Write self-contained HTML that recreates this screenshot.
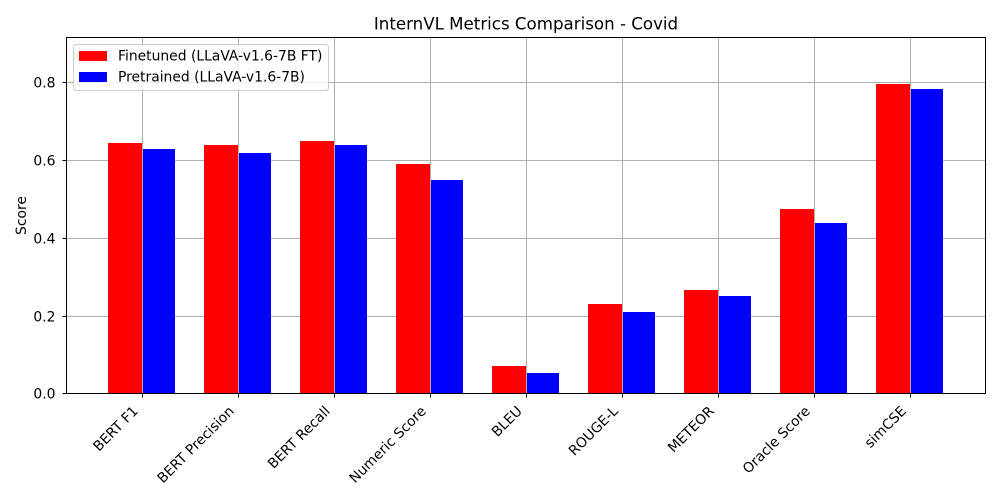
<!DOCTYPE html>
<html>
<head>
<meta charset="utf-8">
<title>InternVL Metrics Comparison - Covid</title>
<style>
html,body{margin:0;padding:0;background:#fff;}
svg{display:block;}
text{font-family:"DejaVu Sans",sans-serif;fill:#000;}
</style>
</head>
<body>
<svg id="chart" xmlns="http://www.w3.org/2000/svg" width="1000" height="500" viewBox="0 0 1000 500">
  <rect x="0" y="0" width="1000" height="500" fill="#fff"/>
  <g id="grid"></g>
  <g id="bars"></g>
  <g id="ticks"></g>
  <rect x="66.5" y="37.5" width="919" height="356" fill="none" stroke="#000" stroke-width="1" shape-rendering="crispEdges"/>
  <text x="526" y="29.5" font-size="16.67" text-anchor="middle">InternVL Metrics Comparison - Covid</text>
  <text transform="translate(26,215.5) rotate(-90)" font-size="13.89" text-anchor="middle">Score</text>
  <g>
    <rect x="73.5" y="44.5" width="255" height="46" rx="3" ry="3" fill="#fff" fill-opacity="0.8" stroke="#ccc" stroke-width="1"/>
    <rect x="79" y="51" width="28" height="10" fill="#ff0000"/>
    <text x="118" y="60.5" font-size="13.89">Finetuned (LLaVA-v1.6-7B FT)</text>
    <rect x="79" y="72" width="28" height="10" fill="#0000ff"/>
    <text x="118" y="81.5" font-size="13.89">Pretrained (LLaVA-v1.6-7B)</text>
  </g>
</svg>
<script>
const categories = ["BERT F1", "BERT Precision", "BERT Recall", "Numeric Score", "BLEU", "ROUGE-L", "METEOR", "Oracle Score", "simCSE"];
const finetuned = [0.644, 0.639, 0.650, 0.590, 0.071, 0.231, 0.267, 0.475, 0.796];
const pretrained = [0.629, 0.619, 0.639, 0.549, 0.053, 0.210, 0.251, 0.439, 0.783];
const yTicks = [0, 0.2, 0.4, 0.6, 0.8];
const yTickLabels = ["0.0", "0.2", "0.4", "0.6", "0.8"];

const NS = "http://www.w3.org/2000/svg";
const sx = function (i) { return 142.5 + 96 * i; };
const sy = function (v) { return 393.9 - 389 * v; };
const snap = function (p) { return Math.floor(p) + 0.5; };

function mk(tag, parent, props) {
  const el = document.createElementNS(NS, tag);
  for (const k in props) el.setAttribute(k, props[k]);
  parent.appendChild(el);
  return el;
}

const grid = document.getElementById("grid");
const bars = document.getElementById("bars");
const ticks = document.getElementById("ticks");

categories.forEach(function (name, i) {
  const x = snap(sx(i));
  const g = mk("line", grid, {x1: x, x2: x, y1: 37.5, y2: 393.5, stroke: "#b0b0b0", "stroke-width": 1, "shape-rendering": "crispEdges"});
  
  

  const t = mk("line", ticks, {x1: x, x2: x, y1: 393.5, y2: 397.5, stroke: "#000", "stroke-width": 1, "shape-rendering": "crispEdges"});
  
  

  const lbl = mk("text", ticks, {transform: "translate(" + (sx(i) - 9.5) + ",406) rotate(-45)", "font-size": 13.89, "text-anchor": "end", dy: "0.6em"});
  lbl.textContent = name;
  
  

  const ry = Math.round(sy(finetuned[i]));
  const r = mk("rect", bars, {x: Math.floor(sx(i)) - 34, y: ry, width: 34, height: Math.round(sy(0)) - ry, fill: "#ff0000", "shape-rendering": "crispEdges"});
  
  

  const by = Math.round(sy(pretrained[i]));
  const b = mk("rect", bars, {x: Math.floor(sx(i)) + 1, y: by, width: 32, height: Math.round(sy(0)) - by, fill: "#0000ff", "shape-rendering": "crispEdges"});
  
  
});

yTicks.forEach(function (v, i) {
  const y = snap(sy(v));
  if (v > 0) {
    const g = mk("line", grid, {x1: 66.5, x2: 985.5, y1: y, y2: y, stroke: "#b0b0b0", "stroke-width": 1, "shape-rendering": "crispEdges"});
    
    
  }
  const t = mk("line", ticks, {x1: 62.5, x2: 66.5, y1: y, y2: y, stroke: "#000", "stroke-width": 1, "shape-rendering": "crispEdges"});
  
  

  const lbl = mk("text", ticks, {x: 55.5, y: y + 5, "font-size": 13.89, "text-anchor": "end"});
  lbl.textContent = yTickLabels[i];
  
  
});
</script>
</body>
</html>
